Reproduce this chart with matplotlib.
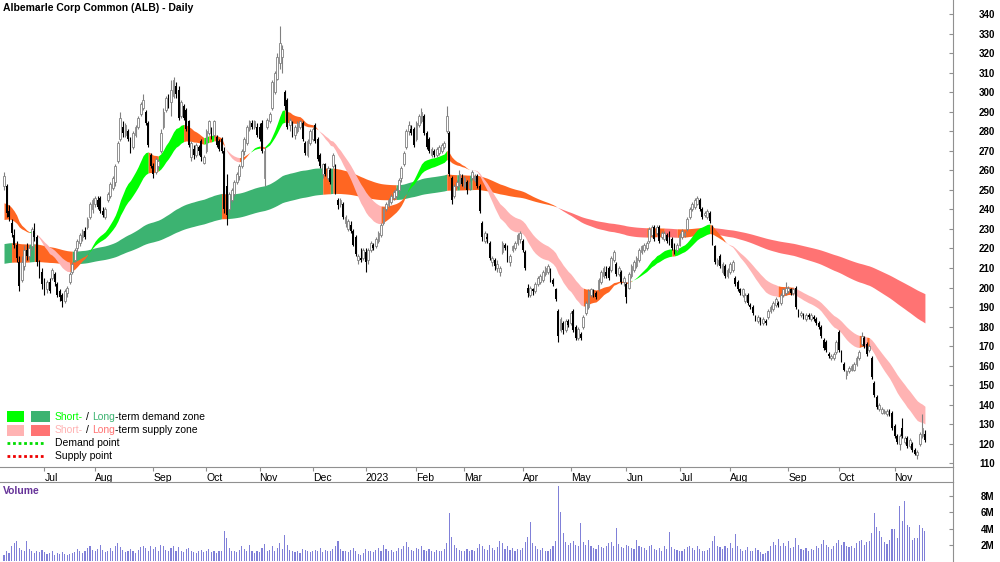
import numpy as np
import matplotlib
matplotlib.use('Agg')
import matplotlib.pyplot as plt
from matplotlib.patches import Rectangle
from matplotlib.lines import Line2D

plt.rcParams['font.family'] = ['Liberation Sans', 'DejaVu Sans']

# ---- daily candles (open, high, low, close), one list per month ----
jun22 = [(252, 259, 250, 257), (252, 253, 236, 238), (239, 242, 234, 236), (233, 235, 226, 228),
         (227, 230, 220, 222), (222, 224, 213, 215), (213, 216, 198, 201), (204, 216, 203, 213),
         (211, 222, 209, 219), (219, 223, 214, 216), (216, 222, 214, 220), (221, 231, 219, 230),
         (229, 233, 224, 226), (226, 227, 211, 213), (212, 214, 205, 207), (208, 210, 199, 202)]
jul22 = [(203, 205, 196, 199), (199, 204, 197, 203), (203, 205, 197, 198), (205, 210, 204, 209),
         (207, 208, 201, 203), (202, 203, 195, 196), (198, 199, 193, 195), (196, 197, 190, 193),
         (193, 199, 192, 198), (197, 201, 195, 200), (203, 208, 202, 207), (208, 213, 207, 212),
         (214, 220, 213, 219), (220, 225, 218, 224), (223, 228, 221, 227), (226, 230, 224, 229),
         (229, 231, 225, 226), (231, 236, 230, 235), (236, 244, 235, 243), (240, 246, 238, 245)]
aug22 = [(243, 247, 241, 246), (245, 247, 240, 241), (246, 247, 238, 239), (239, 241, 236, 237),
         (236, 241, 235, 240), (245, 249, 244, 248), (247, 254, 246, 253), (251, 257, 250, 256),
         (254, 263, 252, 262), (265, 275, 264, 274), (276, 290, 275, 287), (282, 285, 277, 279),
         (278, 284, 277, 283), (280, 281, 275, 276), (276, 277, 269, 270), (272, 280, 271, 279),
         (278, 283, 277, 282), (282, 288, 281, 287), (289, 295, 288, 294), (292, 299, 291, 296),
         (290, 291, 283, 284), (284, 285, 272, 273), (268, 269, 261, 262)]
sep22 = [(262, 264, 256, 258), (259, 267, 258, 266), (262, 266, 260, 265), (270, 281, 269, 279),
         (282, 292, 281, 290), (291, 298, 290, 297), (297, 299, 292, 293), (295, 306, 288, 301),
         (298, 308, 297, 306), (303, 305, 297, 299), (301, 303, 286, 287), (288, 296, 287, 295),
         (293, 294, 286, 287), (291, 292, 280, 281), (285, 286, 272, 273), (267, 275, 265, 274),
         (271, 273, 266, 268), (268, 274, 267, 273), (272, 273, 268, 270), (275, 276, 265, 267),
         (264, 268, 263, 267)]
oct22 = [(270, 281, 269, 280), (279, 286, 278, 285), (281, 282, 276, 277), (278, 286, 277, 285),
         (277, 278, 272, 273), (275, 276, 270, 271), (276, 277, 269, 270), (270, 272, 238, 240),
         (252, 258, 232, 237), (240, 249, 238, 248), (245, 251, 244, 250), (248, 255, 247, 254),
         (254, 259, 253, 258), (257, 263, 255, 262), (262, 271, 261, 270), (270, 277, 268, 276),
         (274, 283, 273, 282), (281, 286, 280, 285), (284, 286, 281, 282), (282, 286, 281, 285),
         (282, 284, 277, 278)]
nov22 = [(282, 284, 275, 276), (284, 286, 269, 270), (256, 272, 252, 270), (282, 287, 281, 286),
         (285, 290, 284, 289), (292, 306, 291, 305), (300, 311, 299, 310), (307, 320, 306, 318),
         (315, 334, 312, 325), (318, 324, 310, 322), (300, 301, 291, 293), (296, 297, 281, 282),
         (283, 287, 280, 286), (284, 285, 277, 278), (278, 283, 276, 282), (280, 285, 279, 284),
         (282, 286, 281, 285), (284, 285, 275, 276), (274, 275, 268, 269), (268, 276, 267, 275),
         (274, 281, 273, 280)]
dec22 = [(276, 282, 275, 281), (283, 284, 274, 275), (276, 277, 265, 266), (268, 269, 261, 262),
         (258, 264, 256, 263), (263, 264, 257, 258), (256, 262, 255, 261), (260, 261, 253, 254),
         (262, 269, 261, 268), (262, 263, 248, 250), (245, 246, 240, 242), (243, 246, 241, 245),
         (243, 244, 235, 236), (233, 237, 231, 236), (230, 235, 229, 234), (232, 234, 228, 229),
         (229, 230, 221, 222), (226, 227, 216, 217), (214, 217, 212, 216), (215, 220, 213, 214),
         (215, 220, 214, 219)]
jan23 = [(218, 220, 208, 213), (214, 220, 212, 219), (219, 224, 218, 223), (222, 223, 219, 220),
         (221, 226, 220, 225), (224, 229, 223, 228), (227, 233, 226, 232), (233, 241, 232, 240),
         (240, 244, 239, 243), (242, 246, 241, 245), (244, 248, 243, 247), (246, 250, 245, 249),
         (247, 251, 246, 250), (250, 256, 248, 255), (256, 262, 254, 261), (263, 270, 262, 269),
         (272, 281, 271, 280), (280, 285, 278, 283), (281, 283, 278, 279), (281, 282, 272, 273)]
feb23 = [(276, 285, 275, 284), (283, 289, 282, 288), (285, 292, 284, 290), (288, 289, 278, 279),
         (279, 280, 271, 272), (276, 277, 269, 270), (268, 272, 267, 271), (270, 271, 267, 268),
         (268, 272, 267, 271), (269, 273, 268, 272), (270, 274, 269, 273), (272, 275, 271, 274),
         (280, 293, 279, 288), (279, 280, 257, 258), (256, 257, 243, 245), (247, 253, 246, 252),
         (252, 255, 251, 254), (253, 260, 252, 258), (256, 258, 252, 253)]
mar23 = [(252, 257, 251, 256), (254, 255, 248, 250), (251, 255, 250, 254), (256, 260, 255, 259),
         (255, 258, 254, 257), (257, 258, 251, 252), (252, 253, 238, 239), (233, 234, 224, 226),
         (224, 229, 223, 228), (226, 228, 223, 225), (223, 224, 214, 215), (213, 216, 211, 215),
         (214, 215, 209, 211), (210, 214, 208, 212), (208, 211, 206, 210), (218, 224, 217, 223),
         (222, 223, 219, 220), (221, 222, 213, 214), (213, 217, 211, 216), (219, 222, 218, 221),
         (220, 224, 219, 223), (223, 228, 222, 227), (225, 229, 223, 228)]
apr23 = [(224, 225, 218, 219), (218, 219, 209, 210), (200, 202, 195, 197), (196, 201, 195, 200),
         (199, 200, 196, 198), (198, 203, 197, 202), (202, 206, 201, 205), (203, 207, 202, 206),
         (204, 209, 203, 208), (207, 211, 206, 210), (208, 212, 207, 211), (209, 210, 203, 204),
         (204, 205, 201, 202), (199, 200, 193, 194), (188, 189, 172, 175), (178, 185, 177, 184),
         (182, 183, 176, 178), (178, 184, 177, 183), (183, 184, 180, 181)]
may23 = [(182, 188, 181, 187), (188, 189, 177, 178), (180, 181, 173, 174), (174, 180, 173, 179),
         (176, 177, 173, 174), (180, 186, 179, 185), (187, 193, 186, 192), (190, 199, 189, 198),
         (196, 200, 195, 199), (198, 199, 195, 196), (197, 198, 194, 195), (199, 205, 198, 204),
         (203, 209, 202, 208), (206, 211, 205, 210), (208, 211, 205, 206), (210, 211, 204, 205),
         (209, 216, 208, 215), (214, 219, 213, 218), (212, 213, 206, 207), (207, 211, 206, 210),
         (208, 209, 202, 203), (203, 206, 201, 205)]
jun23 = [(202, 203, 192, 195), (200, 208, 199, 207), (206, 212, 205, 211), (209, 214, 208, 213),
         (211, 216, 210, 215), (214, 220, 213, 219), (218, 222, 217, 221), (219, 223, 218, 222),
         (220, 224, 219, 223), (224, 231, 223, 230), (227, 232, 226, 231), (231, 232, 224, 225),
         (228, 232, 227, 231), (231, 232, 223, 224), (226, 229, 225, 228), (225, 229, 224, 228),
         (227, 228, 223, 224), (228, 229, 222, 223), (225, 226, 219, 220), (222, 223, 217, 218),
         (219, 223, 218, 222)]
jul23 = [(222, 228, 221, 227), (226, 230, 225, 229), (227, 229, 226, 228), (230, 236, 229, 235),
         (236, 241, 235, 240), (240, 244, 239, 243), (241, 246, 240, 245), (243, 247, 242, 246),
         (245, 246, 239, 240), (240, 241, 235, 236), (237, 239, 236, 238), (236, 240, 235, 239),
         (238, 239, 233, 234), (231, 232, 222, 223), (221, 222, 212, 213), (212, 215, 211, 214),
         (216, 217, 210, 211), (208, 213, 207, 212), (211, 212, 205, 206), (206, 210, 205, 209)]
aug23 = [(208, 213, 207, 212), (209, 214, 208, 213), (205, 206, 201, 202), (203, 204, 198, 199),
         (199, 200, 196, 197), (196, 200, 195, 199), (193, 197, 192, 196), (196, 197, 191, 192),
         (191, 192, 189, 190), (190, 191, 186, 187), (185, 186, 183, 184), (183, 186, 182, 185),
         (184, 185, 181, 182), (182, 185, 181, 184), (183, 184, 181, 182), (185, 189, 184, 188),
         (188, 191, 187, 190), (189, 193, 188, 192), (191, 195, 190, 194), (192, 193, 190, 191),
         (192, 197, 191, 196), (196, 200, 195, 199), (197, 203, 196, 200)]
sep23 = [(198, 201, 197, 200), (199, 200, 196, 197), (197, 200, 196, 199), (200, 201, 189, 190),
         (188, 189, 185, 186), (186, 188, 185, 187), (186, 187, 184, 185), (184, 187, 183, 186),
         (186, 187, 184, 185), (184, 187, 183, 186), (185, 186, 183, 184), (184, 185, 181, 182),
         (182, 183, 179, 180), (180, 181, 174, 175), (173, 174, 168, 169), (172, 173, 167, 168),
         (166, 167, 164, 165), (164, 166, 163, 165), (164, 167, 163, 166), (167, 173, 166, 172)]
oct23 = [(177, 178, 167, 168), (167, 168, 162, 163), (161, 162, 157, 158), (155, 158, 153, 157),
         (157, 160, 156, 159), (158, 161, 157, 160), (158, 162, 157, 161), (161, 165, 160, 164),
         (164, 168, 163, 167), (171, 177, 170, 175), (174, 175, 169, 170), (171, 172, 165, 166),
         (168, 171, 167, 170), (164, 165, 153, 154), (151, 152, 144, 145), (144, 145, 138, 139),
         (138, 141, 137, 140), (136, 139, 135, 138), (136, 138, 135, 137), (135, 138, 134, 137),
         (137, 138, 134, 135), (136, 137, 127, 128)]
nov23 = [(129, 130, 123, 124), (124, 125, 120, 121), (120, 125, 117, 124), (128, 133, 123, 124),
         (121, 124, 120, 123), (123, 124, 118, 119), (119, 123, 118, 122), (120, 121, 116, 117),
         (117, 118, 114, 115), (114, 117, 112, 116), (120, 126, 119, 125), (124, 135, 123, 128),
         (125, 127, 121, 122)]

# ---- daily volume (millions) ----
vol_jun22 = [0.8, 1.2, 1.0, 1.8, 2.2, 2.5, 1.6, 1.4, 1.3, 2.5, 1.5, 1.2, 1.0, 1.3, 1.1, 1.4]
vol_jul22 = [1.1, 0.9, 1.0, 1.2, 0.8, 1.0, 0.9, 1.1, 0.9, 0.8, 0.9, 1.0, 1.1, 1.5, 1.3, 1.0, 1.2, 1.6, 1.9, 1.4]
vol_aug22 = [1.2, 1.5, 2.0, 1.4, 1.1, 1.3, 1.6, 1.2, 1.8, 2.2, 1.7, 1.4, 1.1, 1.3, 1.5, 1.2, 1.0, 1.4, 1.7, 1.9,
             1.6, 1.3, 1.8]
vol_sep22 = [1.5, 1.7, 1.2, 2.0, 1.9, 1.4, 1.2, 1.6, 1.8, 1.3, 1.7, 1.2, 1.1, 1.5, 1.6, 1.3, 1.1, 1.0, 1.2, 1.4, 1.1]
vol_oct22 = [1.2, 1.5, 1.1, 1.3, 1.0, 1.2, 1.3, 3.7, 2.8, 1.6, 1.3, 1.2, 1.1, 1.4, 1.9, 1.5, 1.3, 2.0, 1.2, 1.0, 1.3]
vol_nov22 = [1.1, 1.6, 2.1, 1.2, 1.4, 1.8, 1.3, 1.6, 2.2, 1.5, 3.2, 2.0, 1.4, 1.2, 1.1, 1.3, 1.0, 1.5, 1.4, 1.2, 1.1]
vol_dec22 = [1.2, 1.4, 1.3, 1.6, 1.1, 1.4, 1.2, 1.3, 1.5, 1.8, 2.5, 1.5, 1.3, 1.2, 1.1, 1.4, 1.6, 1.3, 0.9, 0.8, 1.0]
vol_jan23 = [1.5, 1.2, 1.3, 1.1, 1.4, 1.6, 1.3, 2.0, 1.5, 1.2, 1.4, 1.1, 1.3, 1.6, 1.5, 1.9, 2.4, 1.7, 1.4, 1.3]
vol_feb23 = [1.6, 1.5, 1.8, 1.4, 1.3, 1.5, 1.2, 1.1, 1.4, 1.3, 1.2, 1.5, 2.2, 5.9, 3.0, 2.0, 1.6, 1.4, 1.3]
vol_mar23 = [1.3, 1.5, 1.2, 1.4, 1.2, 1.6, 2.1, 1.9, 1.5, 1.4, 2.0, 1.6, 1.4, 1.7, 2.5, 2.2, 1.5, 1.8, 1.4, 1.6,
             1.3, 1.5, 1.4]
vol_apr23 = [1.6, 2.3, 3.0, 4.8, 2.2, 1.8, 1.5, 1.4, 1.6, 1.3, 1.2, 1.5, 1.9, 2.5, 9.3, 6.1, 3.5, 2.4, 2.0]
vol_may23 = [2.2, 2.5, 2.0, 1.8, 4.7, 2.3, 2.0, 2.6, 1.8, 1.6, 1.5, 2.0, 1.7, 1.6, 1.9, 2.2, 2.4, 1.8, 4.1, 2.1,
             1.7, 1.6]
vol_jun23 = [2.0, 1.8, 1.6, 1.5, 2.6, 1.9, 1.7, 1.6, 1.4, 1.8, 2.0, 1.5, 1.4, 1.6, 1.3, 1.9, 1.5, 3.6, 1.7, 1.5, 1.4]
vol_jul23 = [1.3, 1.2, 1.5, 1.7, 1.9, 1.6, 1.4, 1.8, 1.5, 1.3, 1.2, 1.4, 1.6, 2.5, 3.1, 1.9, 1.7, 1.5, 1.8, 1.6]
vol_aug23 = [2.2, 1.6, 3.3, 1.8, 1.5, 1.3, 1.4, 1.7, 1.3, 1.2, 1.6, 1.4, 1.1, 0.9, 1.0, 1.3, 1.8, 2.3, 2.0, 2.7,
             1.9, 2.2, 1.8]
vol_sep23 = [2.5, 1.6, 1.7, 2.9, 2.0, 1.5, 1.4, 1.6, 1.3, 1.5, 1.4, 1.8, 1.6, 2.1, 2.6, 2.0, 1.7, 1.5, 1.9, 2.2]
vol_oct23 = [2.6, 2.0, 2.4, 1.8, 1.7, 1.9, 1.6, 2.2, 2.5, 2.6, 2.0, 2.3, 2.5, 3.4, 5.9, 4.2, 3.7, 3.0, 2.4, 2.1,
             2.6, 3.9]
vol_nov23 = [4.0, 2.8, 6.8, 4.9, 7.4, 4.5, 4.2, 2.6, 2.9, 2.8, 4.4, 4.1, 3.7]

month_labels = ['', 'Jul', 'Aug', 'Sep', 'Oct', 'Nov', 'Dec', '2023', 'Feb', 'Mar', 'Apr', 'May', 'Jun',
                'Jul', 'Aug', 'Sep', 'Oct', 'Nov']
price_ticks = list(range(110, 341, 10))
vol_ticks = [2, 4, 6, 8]
vol_tick_labels = ['2M', '4M', '6M', '8M']

# EMA values on the day before the first candle at the left
seed_short = (242.0, 233.5)   # fast, slow
seed_long = (222.0, 212.0)
short_periods = (21, 34)
long_periods = (144, 233)

candle_months = [jun22, jul22, aug22, sep22, oct22, nov22, dec22, jan23, feb23, mar23, apr23, may23,
                 jun23, jul23, aug23, sep23, oct23, nov23]
volume_months = [vol_jun22, vol_jul22, vol_aug22, vol_sep22, vol_oct22, vol_nov22, vol_dec22, vol_jan23,
                 vol_feb23, vol_mar23, vol_apr23, vol_may23, vol_jun23, vol_jul23, vol_aug23, vol_sep23,
                 vol_oct23, vol_nov23]

C_SHORT_DEM = '#00ff00'
C_LONG_DEM = '#3cb371'
C_SHORT_SUP = '#ffb3b3'
C_LONG_SUP = '#ff7373'
C_MIXED = '#ff6622'
GREY = '#909090'

ohlc = np.array([row for m in candle_months for row in m], dtype=float)
vol = np.array([v for m in volume_months for v in m])
o, h, l, c = ohlc.T
n = len(c)
x = np.arange(n)

month_start = np.cumsum([0] + [len(m) for m in candle_months[:-1]])


def ema(values, period, seed):
    k = 2.0 / (period + 1)
    out, prev = [], seed
    for v in values:
        prev = prev + k * (v - prev)
        out.append(prev)
    return np.array(out)


def zone_colors(fast, slow, dem, sup):
    cols = []
    for f, s, cl in zip(fast, slow, c):
        if f > s and cl > f:
            cols.append(dem)
        elif f < s and cl < f:
            cols.append(sup)
        else:
            cols.append(C_MIXED)
    return cols


def draw_zone(ax, fast, slow, cols):
    # one filled polygon per run of equal colour; segment i-1 -> i takes the colour of day i
    start = 1
    for i in range(2, n + 1):
        if i == n or cols[i] != cols[start]:
            sl = slice(start - 1, i)
            ax.fill_between(x[sl], fast[sl], slow[sl], color=cols[start], lw=0, zorder=1)
            start = i


sf = ema(c, short_periods[0], seed_short[0])
ss = ema(c, short_periods[1], seed_short[1])
lf = ema(c, long_periods[0], seed_long[0])
ls = ema(c, long_periods[1], seed_long[1])

fig = plt.figure(figsize=(10, 5.62), dpi=100)
ax = fig.add_axes([0, 1 - 467 / 562, 0.953, 467 / 562])
axv = fig.add_axes([0, 0, 0.953, 80 / 562])

draw_zone(ax, lf, ls, zone_colors(lf, ls, C_LONG_DEM, C_LONG_SUP))
draw_zone(ax, sf, ss, zone_colors(sf, ss, C_SHORT_DEM, C_SHORT_SUP))

# candles
up = c >= o
lo = np.minimum(o, c)
hgt = np.maximum(np.abs(c - o), 0.5)
ax.vlines(x[up], l[up], h[up], color='#808080', lw=0.8, zorder=3)
ax.vlines(x[~up], l[~up], h[~up], color='black', lw=0.8, zorder=3)
ax.bar(x[up], hgt[up], 0.7, bottom=lo[up], facecolor='white', edgecolor='#808080', lw=0.6, zorder=4)
ax.bar(x[~up], hgt[~up], 0.7, bottom=lo[~up], color='black', lw=0, zorder=4)

xl = (-4 / 2.53, (953 - 4) / 2.53)
ax.set_xlim(*xl)
ax.set_ylim(108.1, 347.2)
for s in ['top', 'left']:
    ax.spines[s].set_visible(False)
for s in ['right', 'bottom']:
    ax.spines[s].set_color(GREY)
    ax.spines[s].set_linewidth(0.8)
ax.yaxis.tick_right()
ax.set_yticks(price_ticks)
ax.set_yticklabels([str(t) for t in price_ticks], fontweight='bold', ha='right')
ax.tick_params(axis='y', direction='in', length=3, color=GREY, labelsize=7, pad=30)
ax.set_xticks(month_start[1:])
ax.set_xticklabels(month_labels[1:], ha='left')
ax.tick_params(axis='x', direction='out', length=3, color=GREY, labelsize=7.5, pad=1)

# volume
axv.bar(x, vol, 0.45, color='#8080d8', lw=0)
axv.set_xlim(*xl)
axv.set_ylim(-0.12, 9.76)
for s in ['bottom', 'left']:
    axv.spines[s].set_visible(False)
for s in ['right', 'top']:
    axv.spines[s].set_color(GREY)
    axv.spines[s].set_linewidth(0.8)
axv.set_xticks([])
axv.yaxis.tick_right()
axv.set_yticks(vol_ticks)
axv.set_yticklabels(vol_tick_labels, fontweight='bold', ha='right')
axv.tick_params(axis='y', direction='in', length=3, color=GREY, labelsize=7, pad=30)

# overlay in pixel coordinates for title and legend
ov = fig.add_axes([0, 0, 1, 1])
ov.set_xlim(0, 1000)
ov.set_ylim(562, 0)
ov.axis('off')
ov.add_line(Line2D([953, 953], [467, 482], color=GREY, lw=0.8))

ov.text(3, 8, 'Albemarle Corp Common (ALB) - Daily', fontsize=7.5, fontweight='bold', va='center')
ov.text(3, 491, 'Volume', fontsize=7.5, fontweight='bold', color='#663399', va='center')

renderer = fig.canvas.get_renderer()


def multicolor(xp, yp, parts):
    for txt, col, gap in parts:
        t = ov.text(xp, yp, txt, color=col, fontsize=7.5, va='center')
        xp += t.get_window_extent(renderer=renderer).width + gap


ov.add_patch(Rectangle((7, 411), 17, 11, color=C_SHORT_DEM, lw=0))
ov.add_patch(Rectangle((31, 411), 19, 11, color=C_LONG_DEM, lw=0))
ov.add_patch(Rectangle((7, 425), 17, 11, color=C_SHORT_SUP, lw=0))
ov.add_patch(Rectangle((31, 425), 19, 11, color=C_LONG_SUP, lw=0))
multicolor(55, 417, [('Short-', C_SHORT_DEM, 3), ('/', 'black', 3), ('Long', C_LONG_DEM, 0),
                     ('-term demand zone', 'black', 0)])
multicolor(55, 430, [('Short-', C_SHORT_SUP, 3), ('/', 'black', 3), ('Long', C_LONG_SUP, 0),
                     ('-term supply zone', 'black', 0)])
ov.plot([7, 45], [443, 443], color='#00dd00', lw=2, ls=(0, (1, 1)))
ov.plot([7, 45], [456, 456], color='#ee0000', lw=2, ls=(0, (1, 1)))
ov.text(55, 443, 'Demand point', fontsize=7.5, va='center')
ov.text(55, 456, 'Supply point', fontsize=7.5, va='center')

fig.savefig('out.png', dpi=100)
